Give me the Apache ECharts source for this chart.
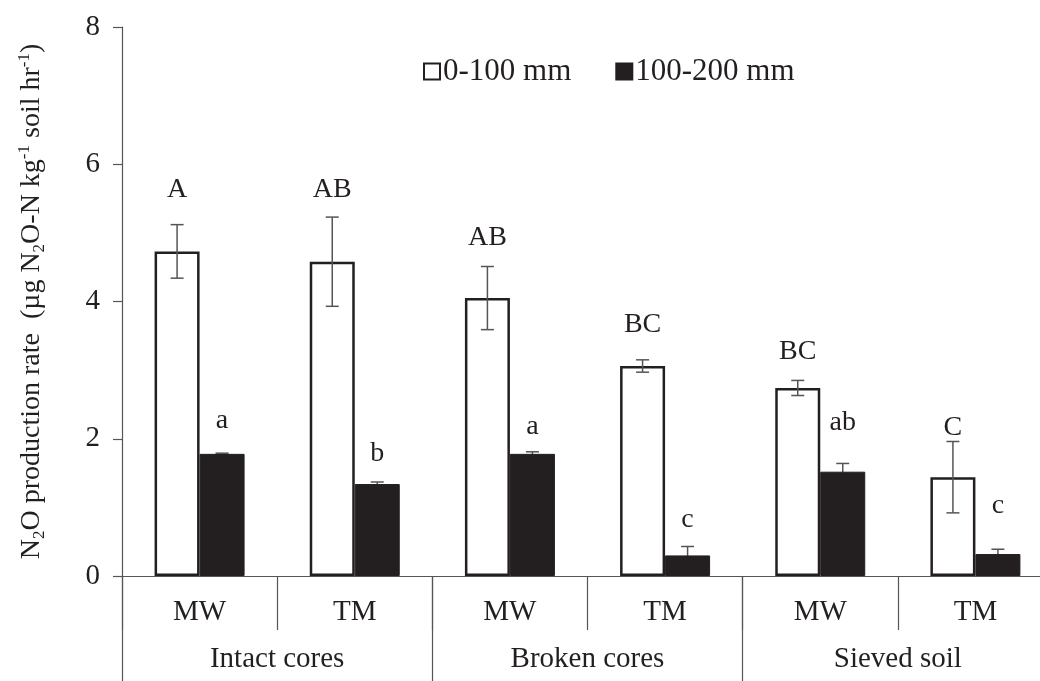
<!DOCTYPE html>
<html>
<head>
<meta charset="utf-8">
<script src="https://cdn.jsdelivr.net/npm/echarts@6/dist/echarts.min.js"></script>
<style>
  html, body { margin: 0; padding: 0; background: #fff; }
  #main { width: 1040px; height: 681px; }
</style>
</head>
<body>
<div id="main"></div>
<script>
var dom = document.getElementById("main");
var myChart = echarts.init(dom);

// data
var treatments = ['MW', 'TM', 'MW', 'TM', 'MW', 'TM'];
var groups = ['Intact cores', 'Broken cores', 'Sieved soil'];
var yTicks = [0, 2, 4, 6, 8];

var shallow = [4.73, 4.58, 4.05, 3.06, 2.74, 1.44];      // 0-100 mm
var shallowErr = [0.39, 0.65, 0.46, 0.09, 0.11, 0.52];
var deep = [1.78, 1.34, 1.78, 0.30, 1.52, 0.32];          // 100-200 mm
var deepErr = [0.01, 0.03, 0.03, 0.13, 0.12, 0.07];

var shallowLetters = ['A', 'AB', 'AB', 'BC', 'BC', 'C'];
var shallowLetterY = [5.63, 5.63, 4.93, 3.66, 3.27, 2.16];
var deepLetters = ['a', 'b', 'a', 'c', 'ab', 'c'];
var deepLetterY = [2.27, 1.79, 2.17, 0.82, 2.23, 1.03];

var font = 'Liberation Serif';
var ink = '#231f20';
var lineCol = '#555';
var gapPct = 42;

function barOffset(api, side) {
    var band = api.size([1, 0])[0];
    var w = band * (1 - gapPct / 100) / 2;
    return side * w / 2;
}

// error bars + significance letters; for the black bars only the upper whisker shows
function errorSeries(values, errs, letters, letterY, side, z) {
    return {
        type: 'custom',
        silent: true,
        z: z,
        data: values.map(function (v, i) { return [i, v, errs[i], letterY[i]]; }),
        renderItem: function (params, api) {
            var i = api.value(0);
            var dx = barOffset(api, side);
            var top = api.coord([i, api.value(1) + api.value(2)]);
            var bot = api.coord([i, api.value(1) - api.value(2)]);
            var lp = api.coord([i, api.value(3)]);
            var x = top[0] + dx;
            var cap = 6.5;
            var st = { stroke: lineCol, lineWidth: 1.5 };
            return {
                type: 'group',
                children: [
                    { type: 'line', shape: { x1: x, y1: top[1], x2: x, y2: bot[1] }, style: st },
                    { type: 'line', shape: { x1: x - cap, y1: top[1], x2: x + cap, y2: top[1] }, style: st },
                    { type: 'line', shape: { x1: x - cap, y1: bot[1], x2: x + cap, y2: bot[1] }, style: st },
                    {
                        type: 'text',
                        z2: 100,
                        style: {
                            x: x, y: lp[1],
                            text: letters[i],
                            fill: ink,
                            font: '28px "' + font + '"',
                            align: 'center',
                            verticalAlign: 'middle'
                        }
                    }
                ]
            };
        }
    };
}

var option = {
    backgroundColor: '#fff',
    animation: false,
    textStyle: { fontFamily: font, color: ink },
    legend: {
        left: 418,
        top: 51,
        itemWidth: 16,
        itemHeight: 16,
        itemGap: 44,
        icon: 'rect',
        textStyle: { fontFamily: font, fontSize: 31, color: ink, padding: [0, 0, 0, -2] },
        data: ['0-100 mm', '100-200 mm']
    },
    grid: {
        left: 122, right: -13, top: 27, bottom: 105,
        outerBoundsMode: 'none',
        containLabel: false
    },
    xAxis: [
        {
            type: 'category',
            data: treatments,
            axisLine: { lineStyle: { color: lineCol, width: 1.2 } },
            axisTick: { show: true, interval: 0, length: 54, lineStyle: { color: lineCol, width: 1.2 } },
            axisLabel: { interval: 0, margin: 22, fontSize: 29, color: ink, fontFamily: font }
        },
        {
            type: 'category',
            data: groups,
            position: 'bottom',
            axisLine: { show: false },
            axisTick: { show: true, interval: 0, length: 110, lineStyle: { color: lineCol, width: 1.2 } },
            axisLabel: { interval: 0, margin: 69, fontSize: 29, color: ink, fontFamily: font }
        }
    ],
    yAxis: {
        type: 'value',
        min: yTicks[0],
        max: yTicks[yTicks.length - 1],
        interval: 2,
        splitLine: { show: false },
        axisLine: { show: true, lineStyle: { color: lineCol, width: 1.2 } },
        axisTick: { show: true, length: 9, lineStyle: { color: lineCol, width: 1.2 } },
        axisLabel: { margin: 22, fontSize: 29, color: ink, fontFamily: font },
        name: '{n|N}{s|2}{n|O production rate  (µg N}{s|2}{n|O-N kg}{p|-1}{n| soil hr}{p|-1}{n|)}',
        nameLocation: 'middle',
        nameGap: 74,
        nameTextStyle: {
            rich: {
                n: { fontFamily: font, fontSize: 28, color: ink, lineHeight: 32 },
                s: { fontFamily: font, fontSize: 17, color: ink, lineHeight: 17, verticalAlign: 'bottom' },
                p: { fontFamily: font, fontSize: 17, color: ink, lineHeight: 17, verticalAlign: 'top' }
            }
        }
    },
    series: [
        {
            name: '0-100 mm',
            type: 'bar',
            z: 2,
            data: shallow,
            barGap: '0%',
            barCategoryGap: gapPct + '%',
            itemStyle: { color: '#fff', borderColor: ink, borderWidth: 2.5 }
        },
        {
            name: '100-200 mm',
            type: 'bar',
            z: 2,
            data: deep,
            itemStyle: { color: ink, borderColor: ink, borderWidth: 1 }
        },
        errorSeries(shallow, shallowErr, shallowLetters, shallowLetterY, -1, 5),
        errorSeries(deep, deepErr, deepLetters, deepLetterY, 1, 1)
    ]
};

myChart.setOption(option, true);
</script>
</body>
</html>
